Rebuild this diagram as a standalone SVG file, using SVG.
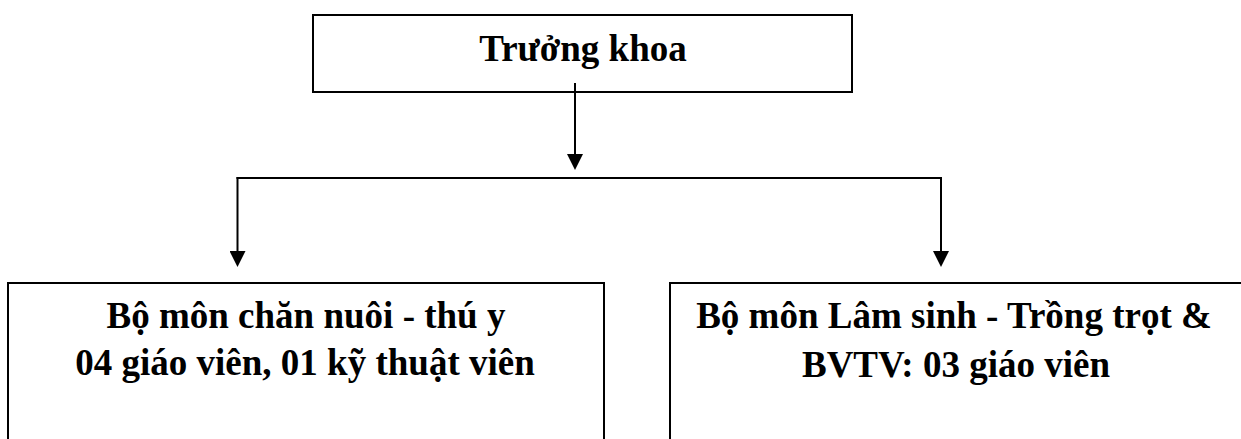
<svg xmlns="http://www.w3.org/2000/svg" width="1241" height="439" viewBox="0 0 1241 439">
<style>
.box{fill:#fff;stroke:#000;stroke-width:2}
.lbl{font-family:"Liberation Serif","Times New Roman",serif;font-weight:bold;font-size:37px;fill:#000;text-anchor:middle}
.con{stroke:#000;stroke-width:2;fill:none}
</style>
<defs>
<marker id="ah" markerUnits="userSpaceOnUse" markerWidth="16" markerHeight="16" refX="6" refY="8" orient="auto">
<path d="M0,0 L16,8 L0,16 Z" fill="#000"/>
</marker>
</defs>
<rect width="1241" height="439" fill="#fff"/>
<g id="truong-khoa">
<rect class="box" x="313" y="15" width="539" height="77"/>
<text class="lbl" x="583" y="61">Trưởng khoa</text>
</g>
<g id="bo-mon-chan-nuoi">
<rect class="box" x="8" y="283" width="596" height="170"/>
<text class="lbl" x="306" y="328">Bộ môn chăn nuôi - thú y</text>
<text class="lbl" x="305" y="375">04 giáo viên, 01 kỹ thuật viên</text>
</g>
<g id="bo-mon-lam-sinh">
<rect class="box" x="670" y="283" width="590" height="170"/>
<text class="lbl" x="954" y="328">Bộ môn Lâm sinh - Trồng trọt &amp;</text>
<text class="lbl" x="956" y="377">BVTV: 03 giáo viên</text>
</g>
<g id="connectors">
<line class="con" x1="575" y1="83" x2="575" y2="160" marker-end="url(#ah)"/>
<line class="con" x1="236.5" y1="178" x2="942" y2="178"/>
<line class="con" x1="237.5" y1="177" x2="237.5" y2="257" marker-end="url(#ah)"/>
<line class="con" x1="941" y1="177" x2="941" y2="257" marker-end="url(#ah)"/>
</g>
</svg>
